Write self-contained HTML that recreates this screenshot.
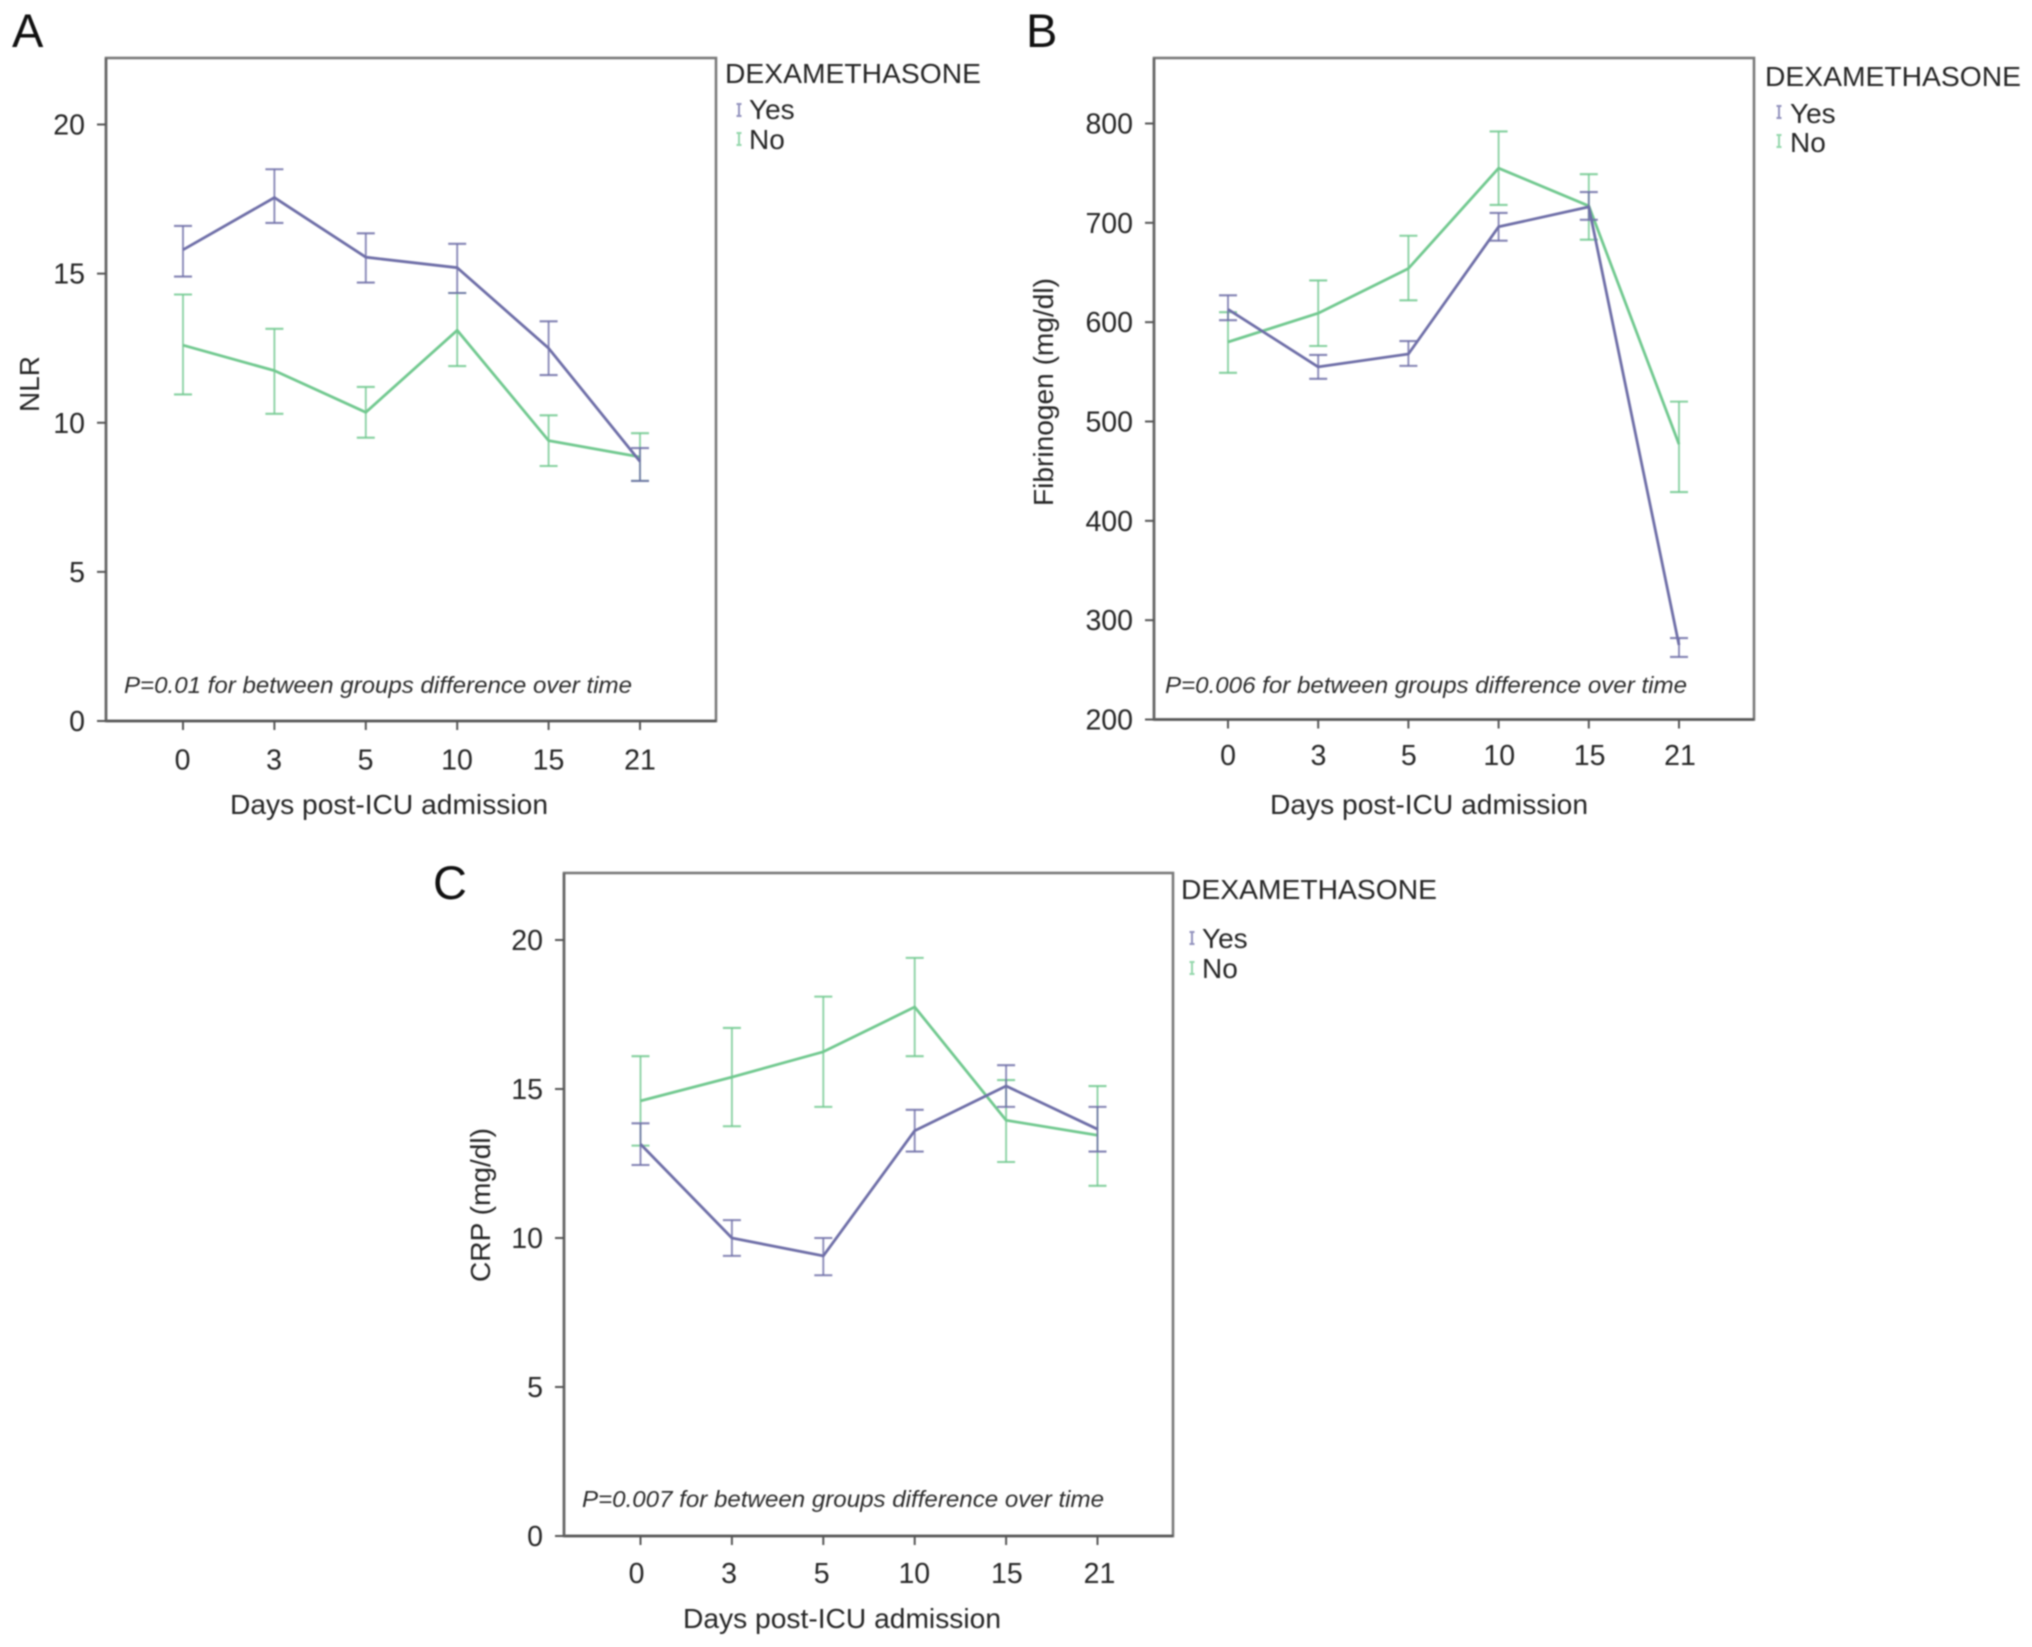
<!DOCTYPE html>
<html lang="en">
<head>
<meta charset="utf-8">
<title>Dexamethasone biomarker trends</title>
<style>
html,body{margin:0;padding:0;background:#fff;width:2032px;height:1647px;overflow:hidden}
svg{display:block;filter:blur(0.8px)}
text{font-family:"Liberation Sans",sans-serif;fill:#262626}
.tick{font-size:28.5px}
.axis{font-size:27.5px}
.legend{font-size:28px}
.note{font-size:23.5px;font-style:italic;fill:#2c2c2c}
.letter{font-size:47px;fill:#111}
</style>
</head>
<body>
<svg id="figure" xmlns="http://www.w3.org/2000/svg" width="2032" height="1647" viewBox="0 0 2032 1647">
  <rect width="2032" height="1647" fill="#fff"/>

  <g id="panel-a">
    <text class="letter" x="12" y="47">A</text>
    <text class="axis" transform="translate(39,384) rotate(-90)" text-anchor="middle" textLength="56" lengthAdjust="spacingAndGlyphs">NLR</text>
    <text class="axis" x="389" y="814" text-anchor="middle" textLength="318" lengthAdjust="spacingAndGlyphs">Days post-ICU admission</text>
    <text class="note" x="124" y="693" textLength="508" lengthAdjust="spacingAndGlyphs">P=0.01 for between groups difference over time</text>
    <text class="legend" x="725" y="83" textLength="256" lengthAdjust="spacingAndGlyphs">DEXAMETHASONE</text>
    <text class="legend" x="749" y="119">Yes</text>
    <text class="legend" x="749" y="149">No</text>
  </g>

  <g id="panel-b">
    <text class="letter" x="1026" y="47">B</text>
    <text class="axis" transform="translate(1053,392) rotate(-90)" text-anchor="middle" textLength="228" lengthAdjust="spacingAndGlyphs">Fibrinogen (mg/dl)</text>
    <text class="axis" x="1429" y="814" text-anchor="middle" textLength="318" lengthAdjust="spacingAndGlyphs">Days post-ICU admission</text>
    <text class="note" x="1165" y="693" textLength="522" lengthAdjust="spacingAndGlyphs">P=0.006 for between groups difference over time</text>
    <text class="legend" x="1765" y="86" textLength="256" lengthAdjust="spacingAndGlyphs">DEXAMETHASONE</text>
    <text class="legend" x="1790" y="123">Yes</text>
    <text class="legend" x="1790" y="152">No</text>
  </g>

  <g id="panel-c">
    <text class="letter" x="433" y="899">C</text>
    <text class="axis" transform="translate(490,1205) rotate(-90)" text-anchor="middle" textLength="154" lengthAdjust="spacingAndGlyphs">CRP (mg/dl)</text>
    <text class="axis" x="842" y="1628" text-anchor="middle" textLength="318" lengthAdjust="spacingAndGlyphs">Days post-ICU admission</text>
    <text class="note" x="582" y="1507" textLength="522" lengthAdjust="spacingAndGlyphs">P=0.007 for between groups difference over time</text>
    <text class="legend" x="1181" y="899" textLength="256" lengthAdjust="spacingAndGlyphs">DEXAMETHASONE</text>
    <text class="legend" x="1202" y="948">Yes</text>
    <text class="legend" x="1202" y="978">No</text>
  </g>
</svg>

<script>
// Shared category labels
const days = ["0", "3", "5", "10", "15", "21"];

// Panel A: NLR
const nlrTicks = [0, 5, 10, 15, 20];
const nlrYesMean = [15.8, 17.55, 15.55, 15.2, 12.5, 8.7];
const nlrYesUpper = [16.6, 18.5, 16.35, 16.0, 13.4, 9.15];
const nlrYesLower = [14.9, 16.7, 14.7, 14.35, 11.6, 8.05];
const nlrNoMean = [12.6, 11.75, 10.35, 13.1, 9.4, 8.85];
const nlrNoUpper = [14.3, 13.15, 11.2, 14.35, 10.25, 9.65];
const nlrNoLower = [10.95, 10.3, 9.5, 11.9, 8.55, 8.05];

// Panel B: Fibrinogen
const fibTicks = [200, 300, 400, 500, 600, 700, 800];
const fibYesMean = [613, 555, 568, 696, 716, 275];
const fibYesUpper = [627, 567, 581, 710, 731, 282];
const fibYesLower = [602, 543, 556, 682, 703, 263];
const fibNoMean = [580, 609, 654, 755, 717, 477];
const fibNoUpper = [610, 642, 687, 792, 749, 520];
const fibNoLower = [549, 576, 622, 718, 683, 429];

// Panel C: CRP
const crpTicks = [0, 5, 10, 15, 20];
const crpYesMean = [13.15, 10.0, 9.4, 13.6, 15.1, 13.65];
const crpYesUpper = [13.85, 10.6, 10.0, 14.3, 15.8, 14.4];
const crpYesLower = [12.45, 9.4, 8.75, 12.9, 14.4, 12.9];
const crpNoMean = [14.6, 15.4, 16.25, 17.75, 13.95, 13.45];
const crpNoUpper = [16.1, 17.05, 18.1, 19.4, 15.3, 15.1];
const crpNoLower = [13.1, 13.75, 14.4, 16.1, 12.55, 11.75];

const YES_COLOR = "#6f6fa8";
const NO_COLOR = "#72c990";
const NS = "http://www.w3.org/2000/svg";

function make(parent, tag, props, text) {
  const el = document.createElementNS(NS, tag);
  for (const k in props) el.setAttribute(k, props[k]);
  if (text !== undefined) el.textContent = text;
  parent.appendChild(el);
  return el;
}

function drawSeries(g, xOf, yOf, mean, upper, lower, color, label) {
  const cap = 9;
  mean.forEach((m, i) => {
    const x = xOf(i);
    const stem = make(g, "line", {x1: x, x2: x, y1: yOf(upper[i]), y2: yOf(lower[i]), stroke: color, "stroke-width": 1.9, opacity: 0.8});
    
    
    [upper[i], lower[i]].forEach(v => {
      const c = make(g, "line", {x1: x - cap, x2: x + cap, y1: yOf(v), y2: yOf(v), stroke: color, "stroke-width": 2.1, opacity: 0.85});
      
      
    });
  });
  const pts = mean.map((m, i) => xOf(i).toFixed(1) + "," + yOf(m).toFixed(1)).join(" ");
  const line = make(g, "polyline", {points: pts, fill: "none", stroke: color, "stroke-width": 2.8, "stroke-linejoin": "round"});
  
  
}

function drawLegendGlyph(g, x, y, color, label) {
  const glyph = make(g, "path", {d: `M${x-2.5} ${y-6}h5M${x} ${y-6}v12M${x-2.5} ${y+6}h5`, fill: "none", stroke: color, "stroke-width": 2, opacity: 0.75});
  
  
}

function drawPanel(cfg) {
  const g = document.getElementById(cfg.id);
  const tickVals = cfg.ticks;
  const lo = tickVals[0], hi = tickVals[tickVals.length - 1];
  const yOf = v => cfg.y0 - (v - lo) * (cfg.y0 - cfg.yHi) / (hi - lo);
  const xOf = i => cfg.x0 + i * cfg.xStep;
  const labelXOf = i => cfg.labelX0 + i * cfg.labelStep;

  const frame = make(g, "rect", {x: cfg.left, y: cfg.top, width: cfg.right - cfg.left, height: cfg.y0 - cfg.top, fill: "none", stroke: "#7a7a7a", "stroke-width": 2.6});
  
  

  const xAxis = make(g, "line", {x1: cfg.left, x2: cfg.right, y1: cfg.y0, y2: cfg.y0, stroke: "#555", "stroke-width": 2.6});
  
  

  const yAxis = make(g, "line", {x1: cfg.left, x2: cfg.left, y1: cfg.top, y2: cfg.y0, stroke: "#666", "stroke-width": 2.6});
  
  

  tickVals.forEach(v => {
    const t = make(g, "line", {x1: cfg.left - 9, x2: cfg.left, y1: yOf(v), y2: yOf(v), stroke: "#555", "stroke-width": 2});
    
    
    const l = make(g, "text", {class: "tick", x: cfg.left - 21, y: yOf(v) + 10, "text-anchor": "end"}, String(v));
    
    
  });

  days.forEach((d, i) => {
    const t = make(g, "line", {x1: xOf(i), x2: xOf(i), y1: cfg.y0, y2: cfg.y0 + 9, stroke: "#555", "stroke-width": 2});
    
    
    const l = make(g, "text", {class: "tick", x: labelXOf(i), y: cfg.y0 + cfg.xLabelDy, "text-anchor": "middle"}, d);
    
    
  });

  drawSeries(g, xOf, yOf, cfg.noMean, cfg.noUpper, cfg.noLower, NO_COLOR, "no-" + cfg.key);
  drawSeries(g, xOf, yOf, cfg.yesMean, cfg.yesUpper, cfg.yesLower, YES_COLOR, "yes-" + cfg.key);

  drawLegendGlyph(g, cfg.legendX, cfg.legendYesY, YES_COLOR, "yes-" + cfg.key);
  drawLegendGlyph(g, cfg.legendX, cfg.legendNoY, NO_COLOR, "no-" + cfg.key);
}

drawPanel({
  id: "panel-a", key: "a", ticks: nlrTicks,
  left: 106, right: 716, top: 58, y0: 721, yHi: 124.5,
  x0: 183, xStep: 91.4, xLabelDy: 48.5, labelX0: 182.5, labelStep: 91.5,
  legendX: 739, legendYesY: 110, legendNoY: 139,
  yesMean: nlrYesMean, yesUpper: nlrYesUpper, yesLower: nlrYesLower,
  noMean: nlrNoMean, noUpper: nlrNoUpper, noLower: nlrNoLower
});

drawPanel({
  id: "panel-b", key: "b", ticks: fibTicks,
  left: 1154, right: 1754, top: 58, y0: 719.5, yHi: 123.5,
  x0: 1228, xStep: 90.2, xLabelDy: 45.5, labelX0: 1228, labelStep: 90.4,
  legendX: 1779, legendYesY: 112, legendNoY: 141,
  yesMean: fibYesMean, yesUpper: fibYesUpper, yesLower: fibYesLower,
  noMean: fibNoMean, noUpper: fibNoUpper, noLower: fibNoLower
});

drawPanel({
  id: "panel-c", key: "c", ticks: crpTicks,
  left: 564, right: 1173, top: 873, y0: 1536, yHi: 940,
  x0: 640.5, xStep: 91.4, xLabelDy: 47, labelX0: 636.5, labelStep: 92.6,
  legendX: 1192, legendYesY: 938, legendNoY: 968,
  yesMean: crpYesMean, yesUpper: crpYesUpper, yesLower: crpYesLower,
  noMean: crpNoMean, noUpper: crpNoUpper, noLower: crpNoLower
});
</script>
</body>
</html>
